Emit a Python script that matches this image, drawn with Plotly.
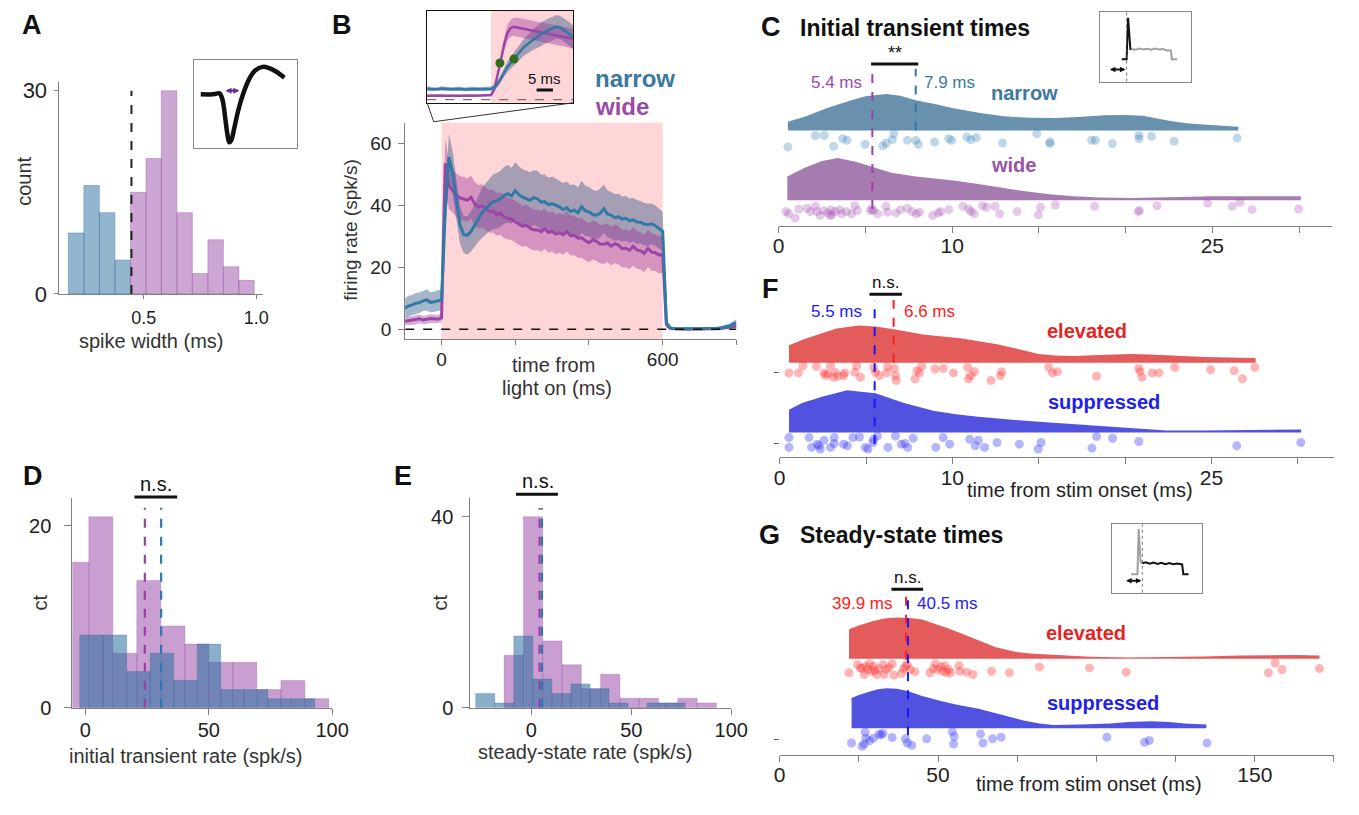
import plotly.graph_objects as go

W, H = 1359, 815          # page (window) size
OX, OY = 8, 8             # default body margin of the html page
FW, FH = W - 2 * OX, H - 2 * OY   # figure size so that page == window
FONT = "Liberation Sans, Arial, Helvetica, sans-serif"

# ======================= DATA =======================
# ---- A: spike width histogram ----
a_bin_width = 0.0688
a_narrow_bins = [0.199, 0.268, 0.337, 0.406]
a_narrow_counts = [9, 16, 12, 5]
a_wide_bins = [0.475, 0.544, 0.612, 0.681, 0.750, 0.819, 0.888, 0.956]
a_wide_counts = [15, 20, 30, 12, 3, 8, 4, 2]
a_threshold = 0.445
# inset waveform (schematic units)
a_wave_t = [7, 20, 26, 29, 32, 34, 36, 38, 41, 45, 50, 56, 62, 70, 76, 84, 92]
a_wave_v = [55, 55, 56, 50, 30, 15, 6, 8, 20, 38, 55, 70, 79, 83, 82, 78, 72]

# ---- B: PSTH ----
b_t = [-100, -90, -80, -70, -60, -50, -40, -30, -20, -10, 0,
       10, 20, 30, 40, 50, 60, 70, 80, 90, 100,
       110, 120, 130, 140, 150, 160, 170, 180, 190, 200,
       210, 220, 230, 240, 250, 260, 270, 280, 290, 300,
       310, 320, 330, 340, 350, 360, 370, 380, 390, 400,
       410, 420, 430, 440, 450, 460, 470, 480, 490, 500,
       510, 520, 530, 540, 550, 560, 570, 580, 590, 600,
       610, 620, 630, 640, 650, 660, 670, 680, 690, 700,
       710, 720, 730, 740, 750, 760, 770, 780, 790, 800]
b_narrow_mean = [6.8, 7.5, 7.9, 8.4, 8.6, 9.2, 9.5, 8.7, 8.9, 9.3, 9.5,
                 38.0, 55.5, 50.5, 42.0, 33.7, 30.5, 30.3, 31.6, 33.7, 35.8,
                 37.6, 38.9, 40.2, 41.1, 41.4, 42.1, 43.2, 43.7, 43.0, 44.7,
                 43.4, 42.6, 42.0, 41.6, 42.5, 42.1, 41.0, 41.1, 40.2, 40.5,
                 40.0, 39.5, 38.6, 39.2, 38.0, 38.4, 37.6, 39.5, 38.2, 37.9,
                 37.0, 36.8, 37.4, 38.9, 37.2, 36.8, 36.0, 36.3, 35.5, 35.8,
                 35.0, 35.3, 34.6, 34.5, 33.9, 33.7, 34.0, 33.4, 32.5, 31.6,
                 2.1, 0.5, 0.3, 0.2, 0.2, 0.2, 0.1, 0.2, 0.2, 0.3,
                 0.2, 0.3, 0.2, 0.4, 0.3, 0.5, 0.8, 1.0, 1.6, 2.1]
b_narrow_sem = [3.2, 3.3, 3.2, 3.4, 3.3, 3.2, 3.4, 3.3, 3.2, 3.4, 3.3,
                6.0, 7.5, 7.0, 6.5, 6.0, 6.0, 6.2, 6.5, 7.0, 7.5,
                8.0, 8.3, 8.5, 8.8, 9.0, 9.0, 9.2, 9.3, 9.0, 9.2,
                9.1, 9.0, 9.2, 9.0, 8.8, 9.0, 8.9, 8.8, 8.7, 8.8,
                8.6, 8.5, 8.6, 8.4, 8.5, 8.3, 8.2, 8.4, 8.1, 8.0,
                8.0, 7.8, 7.9, 7.8, 7.6, 7.5, 7.6, 7.4, 7.3, 7.2,
                7.2, 7.0, 7.1, 6.9, 6.8, 6.8, 6.6, 6.5, 6.4, 6.3,
                1.5, 0.4, 0.3, 0.2, 0.2, 0.2, 0.2, 0.2, 0.2, 0.3,
                0.3, 0.3, 0.3, 0.4, 0.4, 0.5, 0.7, 0.8, 1.0, 1.2]
b_wide_mean = [2.6, 2.8, 2.9, 3.1, 3.4, 3.0, 3.2, 3.5, 3.4, 3.3, 3.7,
               53.5, 46.3, 44.7, 43.2, 42.4, 42.1, 41.6, 42.6, 40.5, 39.5,
               39.8, 38.9, 38.0, 38.1, 37.0, 37.4, 36.2, 35.8, 35.5, 34.7,
               33.9, 33.2, 33.6, 32.6, 32.0, 32.1, 31.5, 32.4, 31.2, 31.6,
               30.7, 31.1, 30.5, 31.6, 30.2, 30.3, 29.4, 29.5, 28.6, 27.9,
               28.8, 28.4, 27.5, 27.4, 27.9, 26.8, 27.6, 27.2, 26.0, 26.1,
               25.5, 26.8, 25.6, 25.3, 24.5, 26.1, 24.9, 24.7, 24.0, 24.2,
               1.6, 0.3, 0.2, 0.1, 0.1, 0.2, 0.1, 0.1, 0.2, 0.1,
               0.1, 0.2, 0.1, 0.2, 0.2, 0.3, 0.4, 0.6, 0.8, 1.0]
b_wide_sem = [1.3, 1.4, 1.3, 1.5, 1.4, 1.3, 1.5, 1.4, 1.4, 1.3, 1.5,
              8.0, 7.5, 7.0, 7.0, 7.0, 7.0, 7.0, 7.0, 7.0, 7.0,
              7.0, 6.9, 6.9, 6.9, 6.8, 6.8, 6.8, 6.8, 6.7, 6.7,
              6.7, 6.6, 6.7, 6.6, 6.6, 6.5, 6.6, 6.5, 6.5, 6.5,
              6.4, 6.5, 6.4, 6.5, 6.4, 6.4, 6.3, 6.4, 6.3, 6.3,
              6.3, 6.3, 6.2, 6.3, 6.2, 6.2, 6.2, 6.2, 6.1, 6.2,
              6.1, 6.2, 6.1, 6.0, 6.1, 6.0, 6.0, 5.9, 6.0, 5.9,
              1.0, 0.2, 0.1, 0.1, 0.1, 0.1, 0.1, 0.1, 0.1, 0.1,
              0.1, 0.1, 0.1, 0.1, 0.1, 0.2, 0.2, 0.3, 0.4, 0.5]
b_light_on = [0, 600]

# B inset (zoom around light onset)
bi_t = [-20, -19, -18, -17, -16, -15, -14, -13, -12, -11, -10, -9, -8, -7, -6, -5, -4, -3, -2, -1,
        0, 1, 2, 3, 4, 5, 6, 7, 8, 9, 10, 11, 12, 13, 14, 15, 16, 17, 18, 19, 20, 21, 22, 23, 24, 25]
bi_narrow_mean = [8.2, 8.4, 8.0, 7.8, 8.1, 8.5, 8.3, 8.0, 7.9, 8.2, 8.4, 8.1, 7.8, 8.0, 8.3, 8.1, 7.9, 8.0, 8.2, 8.1,
                  8.3, 9.5, 12, 16, 21, 25, 28, 31, 34, 37, 40, 42, 44, 46, 48, 49.5, 51, 52.5, 53.5, 54.5,
                  55.5, 55, 53.5, 52, 50, 47.5]
bi_narrow_sem = [1.6, 1.7, 1.6, 1.5, 1.6, 1.7, 1.6, 1.6, 1.5, 1.6, 1.7, 1.6, 1.5, 1.6, 1.7, 1.6, 1.5, 1.6, 1.6, 1.6,
                 1.7, 2.0, 2.5, 3.0, 3.5, 4.0, 4.5, 5.0, 5.5, 6.0, 6.5, 7.0, 7.5, 8.0, 8.5, 9.0, 9.0, 9.0, 9.0, 9.0,
                 9.0, 9.0, 9.0, 9.0, 9.0, 9.0]
bi_wide_mean = [3.0, 3.1, 2.9, 3.2, 3.0, 3.1, 2.9, 3.0, 3.2, 3.1, 3.0, 2.9, 3.1, 3.0, 3.2, 3.0, 3.1, 2.9, 3.0, 3.2,
                3.5, 8, 18, 30, 42, 51, 54.5, 55.5, 55, 54.5, 54, 53.5, 53, 52.5, 52, 51.5, 51, 50.5, 50, 49.5,
                49, 48.5, 48, 47.5, 47, 46.5]
bi_wide_sem = [0.9, 0.9, 0.8, 0.9, 0.9, 0.8, 0.9, 0.9, 0.8, 0.9, 0.9, 0.8, 0.9, 0.9, 0.8, 0.9, 0.9, 0.8, 0.9, 0.9,
               1.0, 2.0, 3.0, 4.0, 5.0, 6.0, 6.5, 7.0, 7.5, 7.5, 7.5, 7.5, 7.5, 7.5, 7.5, 7.5, 7.5, 7.5, 7.5, 7.5,
               7.5, 7.5, 7.5, 7.5, 7.5, 7.5]
bi_onset_t = [2.7, 7.0]
bi_onset_v = [28, 31]

# ---- C: initial transient times (narrow vs wide) ----
c_narrow_kde_t = [0.53, 1.5, 2.8, 4.0, 5.0, 6.2, 7.0, 7.9, 9.0, 10.0, 11.6, 13.0, 14.5, 16.0, 17.5, 18.8,
                  20.0, 21.0, 22.5, 23.5, 24.7, 26.5]
c_narrow_kde_h = [9, 14, 23, 30, 35, 37.3, 35.5, 31, 27, 23, 18, 14.5, 13, 12.8, 14, 15.5, 16, 15, 10, 7.5, 6, 4]
c_wide_kde_t = [0.5, 1.5, 2.5, 3.4, 4.5, 5.4, 6.5, 7.9, 9.0, 10.1, 11.5, 12.8, 14.0, 15.6, 17.0, 18.5, 20.4,
                22.5, 24.9, 27.5, 30.1]
c_wide_kde_h = [24, 33, 40, 43, 39, 34, 28, 24, 22, 20, 16.5, 13, 9.5, 6, 4, 2.8, 2.3, 3, 4, 4, 4]
c_narrow_dot_t = [0.53, 2.12, 2.63, 3.17, 3.69, 3.93, 4.98, 6.0, 6.2, 6.55,
                  6.64, 7.42, 7.9, 8.05, 8.99, 9.8, 9.97, 10.85, 11.07, 11.39,
                  12.91, 14.88, 15.64, 15.64, 18.04, 18.26, 19.24, 20.77, 20.77, 21.49,
                  22.8, 26.43]
c_narrow_dot_y = [80.3, 92, 92, 81, 88.7, 87, 83, 81.3, 84.3, 87.7,
                  93.7, 87, 87, 83, 85.3, 88.7, 87, 90.3, 87.7, 89.7,
                  84.3, 93.7, 83.7, 85.3, 87, 87, 83.7, 92, 88.7, 91,
                  86, 89.3]
c_wide_dot_t = [0.42, 0.57, 0.95, 1.17, 1.64, 1.83, 2.12, 2.21, 2.40, 2.59,
                2.83, 2.97, 3.02, 3.06, 3.25, 3.53, 3.63, 3.91, 4.20, 4.38,
                4.54, 5.29, 5.37, 5.48, 5.71, 6.18, 6.27, 6.75, 7.03, 7.41,
                7.69, 7.94, 8.13, 8.88, 9.20, 9.34, 9.81, 10.62, 10.96, 11.09,
                11.28, 11.75, 11.98, 12.47, 12.74, 13.74, 14.97, 15.1, 15.95, 18.21,
                20.73, 20.8, 21.81, 24.73, 26.15, 26.59, 27.29, 29.97]
c_wide_dot_y = [14.3, 12, 7.7, 17, 17.7, 14.3, 19.7, 14.3, 10.3, 15.3,
                13, 10.3, 16.3, 11, 14.3, 16.3, 12, 14.3, 12, 20.3,
                15.3, 15.3, 17, 15.3, 12, 19.7, 13.7, 13, 16.3, 17.7,
                14.3, 12, 13.7, 10.3, 13, 14.3, 16.3, 19.7, 17, 14.3,
                12, 20.3, 18.7, 19.7, 12, 14.3, 11, 18.7, 21, 19.7,
                14.3, 15.3, 20.3, 23, 19.7, 23.7, 16.3, 17]
c_median_wide = 5.4
c_median_narrow = 7.9
# C inset schematic trace
ci_black_t = [22, 27, 28.5, 30.8, 31.6]
ci_black_v = [22.7, 22.7, 65, 33.3, 33.3]
ci_gray_t = [31.6, 36, 40, 44, 48, 52, 56, 60, 64, 68, 72, 73, 78.5]
ci_gray_v = [33.3, 32.5, 33.8, 32.8, 33.5, 32.4, 33.6, 32.7, 33.2, 31.8, 31.7, 22.7, 22.7]

# ---- D: initial transient rate histograms ----
d_wide_bins = [-3.47, 6.27, 16.0, 25.7, 35.5, 45.2, 54.9, 64.6, 74.4, 84.1, 93.8]
d_wide_counts = [16, 21, 6, 14, 9, 7, 5, 5, 2, 3, 1]
d_wide_width = 9.73
d_narrow_bins = [2.49, 12.0, 21.55, 31.05, 40.55, 50.1, 59.65, 69.15, 78.65, 88.2]
d_narrow_counts = [8, 8, 4, 6, 3, 7, 2, 2, 1, 1]
d_narrow_width = 9.52
d_mean_wide = 24.1
d_mean_narrow = 30.7

# ---- E: steady-state rate histograms ----
e_wide_bins = [-8.78, 0.88, 10.53, 20.18, 29.83, 39.48, 49.13, 58.78, 68.43, 78.08, 87.73]
e_wide_counts = [11, 40, 14, 9, 4, 7, 2, 2, 1, 2, 1]
e_wide_width = 9.65
e_narrow_bins = [-23.04, -13.52, -4.0, 5.52, 15.04, 24.56, 34.08, 43.6, 53.12, 62.64, 72.16]
e_narrow_counts = [3, 1, 15, 6, 3, 5, 4, 1, 0, 1, 1]
e_narrow_width = 9.52
e_mean_wide = 4.1
e_mean_narrow = 5.3

# ---- F: initial transient times (elevated vs suppressed) ----
f_elev_kde_t = [0.54, 1.4, 2.4, 3.3, 4.57, 5.55, 6.7, 8.3, 10.45, 12.6, 13.8, 15.0, 16.0, 17.0, 18.5,
                20.3, 21.4, 23.0, 24.6, 26.0, 27.56]
f_elev_kde_h = [18, 24, 30, 35, 38, 37, 34, 29, 25, 19, 14, 9, 7.5, 7, 8, 9, 8.5, 7, 6, 5.5, 5]
f_supp_kde_t = [0.54, 1.3, 2.4, 3.9, 5.55, 7.2, 8.9, 10.2, 11.5, 13.0, 14.8, 16.5, 18.1, 20.5, 22.4,
                24.5, 26.8, 28.5, 30.2]
f_supp_kde_h = [23, 30, 36, 43, 40, 30, 22, 18.5, 16, 13.5, 11, 9, 7, 4, 2, 2, 2.3, 2.8, 3]
f_elev_dot_t = [0.54, 1.09, 1.35, 2.13, 2.57, 2.65, 2.79, 2.94, 3.11, 3.22,
                3.37, 3.70, 3.77, 4.35, 4.46, 4.68, 5.44, 5.55, 5.77, 6.2,
                6.25, 6.64, 6.71, 6.75, 7.84, 7.95, 8.1, 8.23, 8.99, 9.47,
                10.06, 10.89, 10.93, 11.07, 11.28, 12.24, 12.79, 12.85, 15.58, 15.8,
                16.08, 18.35, 20.8, 20.87, 20.98, 21.57, 21.96, 22.88, 24.95, 26.32,
                26.8, 27.52]
f_elev_dot_y = [85.7, 85.7, 93, 92.3, 85.7, 83, 84.7, 93, 81.3, 86.3,
                82.3, 83, 85.7, 86.3, 93, 81.3, 91.3, 86.3, 83, 85.7,
                92, 90.3, 83, 78, 79.7, 88, 85.7, 92.3, 89.7, 90.3,
                85.7, 91.3, 79.7, 83, 87, 78, 83, 87, 91.3, 85.7,
                87, 82.3, 90.3, 87, 81.3, 85.7, 85.7, 91.3, 89, 88,
                79.7, 91.3]
f_supp_dot_t = [0.54, 0.54, 1.70, 1.85, 2.17, 2.28, 2.35, 2.57, 2.94, 3.16,
                3.16, 3.70, 3.92, 4.24, 4.62, 4.96, 5.12, 5.40, 5.44, 5.66,
                6.27, 6.71, 7.04, 7.25, 7.41, 7.73, 9.04, 9.47, 9.85, 11.0,
                11.33, 11.5, 11.87, 12.59, 13.88, 14.97, 15.14, 18.08, 18.35, 19.28,
                20.8, 26.47, 30.18]
f_supp_dot_y = [19.7, 9.7, 19.7, 9.7, 13, 11.3, 8, 17, 9.7, 13.7,
                19.7, 13, 11.3, 19.7, 20.3, 9.7, 8, 14.7, 18, 21.3,
                9.7, 21.3, 13, 13.7, 9.7, 19, 9.7, 19.7, 13, 18,
                11.3, 17, 9.7, 14.7, 13, 8, 14.7, 9, 20.7, 19,
                15.7, 11.3, 14.7]
f_median_supp = 5.5
f_median_elev = 6.6

# ---- G: steady-state times (elevated vs suppressed) ----
g_elev_kde_t = [21.9, 25, 29, 33, 36.7, 41, 45, 49, 53.3, 58, 62.8, 68, 74.6, 80, 86.5, 98, 110.2, 122,
                133.9, 145, 155.3, 163, 170.4]
g_elev_kde_h = [30, 34, 38, 41, 42, 41.5, 40, 36, 31, 25, 19, 12, 7, 5, 4, 2, 1.3, 1.5, 2.3, 3.3, 4, 3.8, 3.3]
g_supp_kde_t = [22.7, 25, 28, 31, 33.7, 37, 40.3, 45, 50.9, 56, 62.8, 70, 77, 82, 86.5, 95, 104.3, 110,
                117.3, 123, 127.9, 134.7]
g_supp_kde_h = [31, 34, 37, 40, 41, 40.5, 38, 33, 28, 24, 20, 14, 8, 5, 3.3, 4, 5, 6.5, 7.3, 6.5, 5, 4]
g_elev_dot_t = [21.9, 24.6, 25.5, 26.7, 27.2, 27.8, 28.4, 29.0, 29.6, 30.6,
                31.4, 32.6, 32.9, 33.7, 35.5, 36.1, 39.1, 39.7, 40.3, 41.2,
                42.7, 47.4, 49.2, 49.8, 50.9, 51.5, 52.1, 53.3, 53.9, 56.6,
                56.9, 59.0, 61.0, 66.9, 72.5, 82.0, 97.8, 109.4, 154.3, 156.4,
                158.6, 170.4, 26.0, 30.0, 34.5, 38.5, 48.5, 52.6]
g_elev_dot_y = [83.7, 92, 88.7, 82, 90.3, 87, 93, 85.3, 90.3, 82,
                87.7, 92, 82, 87, 93, 81.3, 87.7, 90.3, 92, 87,
                84.7, 83.7, 93, 87, 89.7, 85.3, 91, 87, 83.7, 91,
                85.3, 84.3, 82, 85.3, 83.7, 89.7, 88.7, 84.3, 83.7, 93.7,
                87, 88, 88, 86, 89, 83, 88, 84]
g_supp_dot_t = [22.7, 26.0, 26.7, 27.0, 27.2, 28.4, 29.6, 31.4, 32.0, 32.6,
                35.5, 39.7, 40.3, 41.7, 46.4, 54.5, 55.1, 54.9, 63.4, 64.2,
                67.2, 69.9, 103.3, 115.2, 116.7, 134.9]
g_supp_dot_y = [12, 8.7, 11, 23, 17, 14.3, 17, 21, 20.3, 22,
                17.7, 16.3, 12, 9.7, 16.3, 23.7, 18.7, 11, 21.3, 12,
                16.3, 18, 18, 12.7, 14.7, 12]
g_median_elev = 39.9
g_median_supp = 40.5
# G inset schematic trace
gi_gray_t = [19.2, 25.6, 26.9, 28.8, 30.6]
gi_gray_v = [19, 19, 65, 31.7, 30]
gi_black_t = [30.6, 34, 38, 42, 46, 50, 54, 58, 62, 66, 71.1, 72.3, 77.6]
gi_black_v = [30, 31.2, 29.8, 30.9, 29.5, 30.6, 29.3, 30.4, 29.1, 29.8, 29, 19, 19]

# ======================= STYLE / LAYOUT HELPERS =======================
BLUE_BAR = "rgba(40,110,160,0.55)"
PURP_BAR = "rgba(155,80,170,0.55)"
NARROW_C = "#2f7aa6"
WIDE_C = "#9c45a8"
RED_T = "#e8231f"
BLUE_T = "#2121e8"
AXC = "#808080"


def px2x(px):
    return min(1.0, max(0.0, (px - OX) / FW))


def py2y(py):
    return min(1.0, max(0.0, 1 - (py - OY) / FH))


def xdom(l, r):
    return [px2x(l), px2x(r)]


def ydom(top, bot):
    return [py2y(bot), py2y(top)]


def base_axis(domain, rng, anchor, **kw):
    d = dict(domain=domain, range=rng, anchor=anchor, showgrid=False, zeroline=False,
             showline=False, ticks="", showticklabels=False, fixedrange=True)
    d.update(kw)
    return d


def tf(size):
    return dict(family=FONT, size=size, color="#222")


annotations = []
shapes = []


def txt(text, px, py, size=20, color="#111", bold=False, xanchor="center", angle=0):
    annotations.append(dict(text=f"<b>{text}</b>" if bold else text, x=(px - OX) / FW, y=1 - (py - OY) / FH,
                            xref="paper", yref="paper", showarrow=False,
                            font=dict(family=FONT, size=size, color=color),
                            xanchor=xanchor, yanchor="middle", textangle=angle))


def dtxt(text, x, y, xr, yr, size=17, color="#111", bold=False, xanchor="center"):
    annotations.append(dict(text=f"<b>{text}</b>" if bold else text, x=x, y=y, xref=xr, yref=yr,
                            showarrow=False, font=dict(family=FONT, size=size, color=color),
                            xanchor=xanchor, yanchor="middle"))


def vline(x, y0, y1, xr, yr, color, width=2, dash="dash"):
    shapes.append(dict(type="line", x0=x, x1=x, y0=y0, y1=y1, xref=xr, yref=yr,
                       line=dict(color=color, width=width, dash=dash)))


def hline(x0, x1, y, xr, yr, color="#111", width=3, dash="solid"):
    shapes.append(dict(type="line", x0=x0, x1=x1, y0=y, y1=y, xref=xr, yref=yr,
                       line=dict(color=color, width=width, dash=dash)))


def darrow(x0, x1, y, xr, yr, color, width=2):
    annotations.append(dict(x=x1, y=y, ax=x0, ay=y, xref=xr, yref=yr, axref=xr, ayref=yr,
                            text="", showarrow=True, arrowhead=2, arrowside="end+start", arrowsize=0.55,
                            arrowwidth=width, arrowcolor=color, standoff=0, startstandoff=0))


fig = go.Figure()


def add(tr, n):
    xa = "x" if n == 1 else f"x{n}"
    ya = "y" if n == 1 else f"y{n}"
    tr.update(xaxis=xa, yaxis=ya, showlegend=False, hoverinfo="skip")
    fig.add_trace(tr)


def half_violin(kt, kh, base, color, n):
    xs = list(kt) + list(kt)[::-1]
    ys = [base + h for h in kh] + [base] * len(kt)
    add(go.Scatter(x=xs, y=ys, fill="toself", fillcolor=color, mode="lines",
                   line=dict(width=0, color=color)), n)


def dots(t, y, color, n, size=9):
    add(go.Scatter(x=t, y=y, mode="markers", marker=dict(size=size, color=color, line=dict(width=0))), n)


def band(t, m, s, color, n):
    up = [a + b for a, b in zip(m, s)]
    lo = [a - b for a, b in zip(m, s)]
    add(go.Scatter(x=list(t) + list(t)[::-1], y=up + lo[::-1], fill="toself", fillcolor=color,
                   mode="lines", line=dict(width=0)), n)


# ======================= A =======================
add(go.Bar(x=a_narrow_bins, y=a_narrow_counts, width=a_bin_width, marker=dict(color="rgba(40,110,160,0.5)",
           line=dict(color="rgba(60,110,150,0.5)", width=0.8))), 1)
add(go.Bar(x=a_wide_bins, y=a_wide_counts, width=a_bin_width, marker=dict(color="rgba(155,80,170,0.5)",
           line=dict(color="rgba(150,90,165,0.5)", width=0.8))), 1)
vline(a_threshold, 0, 30, "x", "y", "#222", width=2)
# A inset
shapes.append(dict(type="rect", xref="x11 domain", yref="y11 domain", x0=0, x1=1, y0=0, y1=1,
                   fillcolor="#e4e5e7", line=dict(width=0), layer="below"))
add(go.Scatter(x=a_wave_t, y=a_wave_v, mode="lines", line=dict(color="#111", width=4.5, shape="spline")), 11)
darrow(30.7, 46.3, 58.7, "x11", "y11", "#6a2c9a", width=2.2)

# ======================= B =======================
shapes.append(dict(type="rect", xref="x2", yref="y2 domain", x0=b_light_on[0], x1=b_light_on[1], y0=0, y1=1,
                   fillcolor="#ffd6d8", line=dict(width=0), layer="below"))
band(b_t, b_narrow_mean, b_narrow_sem, "rgba(40,80,130,0.42)", 2)
band(b_t, b_wide_mean, b_wide_sem, "rgba(150,40,150,0.38)", 2)
add(go.Scatter(x=b_t, y=b_wide_mean, mode="lines", line=dict(color=WIDE_C, width=3)), 2)
add(go.Scatter(x=b_t, y=b_narrow_mean, mode="lines", line=dict(color=NARROW_C, width=3)), 2)
hline(-98.7, 800, 0, "x2", "y2", "#111", width=1.5, dash="dash")

# B inset
shapes.append(dict(type="rect", xref="x3", yref="y3 domain", x0=0, x1=25, y0=0, y1=1,
                   fillcolor="#ffd6d8", line=dict(width=0), layer="below"))
band(bi_t, bi_narrow_mean, bi_narrow_sem, "rgba(40,80,130,0.42)", 3)
band(bi_t, bi_wide_mean, bi_wide_sem, "rgba(150,40,150,0.38)", 3)
add(go.Scatter(x=bi_t, y=bi_wide_mean, mode="lines", line=dict(color=WIDE_C, width=2.5)), 3)
add(go.Scatter(x=bi_t, y=bi_narrow_mean, mode="lines", line=dict(color=NARROW_C, width=2.5)), 3)
add(go.Scatter(x=bi_onset_t, y=bi_onset_v, mode="markers", marker=dict(size=9, color="#2f6e1d")), 3)
hline(-19.5, 25, 0, "x3", "y3", "#555", width=1, dash="dash")
hline(13.9, 18.9, 7.3, "x3", "y3", "#111", width=3)
dtxt("5 ms", 16.4, 16.5, "x3", "y3", size=15)
# connector lines from inset to main axes
shapes.append(dict(type="path", xref="paper", yref="paper",
                   path=(f"M {(428.3 - OX) / FW} {1 - (101.7 - OY) / FH} "
                         f"L {(435 - OX) / FW} {1 - (121 - OY) / FH} "
                         f"L {(576.7 - OX) / FW} {1 - (101.7 - OY) / FH}"),
                   line=dict(color="#333", width=1)))

# ======================= C =======================
half_violin(c_narrow_kde_t, c_narrow_kde_h, 97, "#6891ad", 4)
half_violin(c_wide_kde_t, c_wide_kde_h, 26, "#a67bb0", 4)
dots(c_narrow_dot_t, c_narrow_dot_y, "rgba(60,135,185,0.33)", 4)
dots(c_wide_dot_t, c_wide_dot_y, "rgba(165,80,180,0.3)", 4)
vline(c_median_wide, 17, 160, "x4", "y4", "#a03fb0")
vline(c_median_narrow, 97, 160, "x4", "y4", "#2f78a8")
hline(5.33, 8.05, 165, "x4", "y4")
dtxt("**", 6.7, 176, "x4", "y4", size=18)
dtxt("5.4 ms", 4.93, 146, "x4", "y4", size=17, color="#a04aae", xanchor="right")
dtxt("7.9 ms", 8.28, 146, "x4", "y4", size=17, color="#3a7aa8", xanchor="left")
dtxt("narrow", 12.1, 135, "x4", "y4", size=20, color="#3d79a3", bold=True, xanchor="left")
dtxt("wide", 12.1, 62, "x4", "y4", size=20, color="#9a52a8", bold=True, xanchor="left")
# C inset
shapes.append(dict(type="rect", xref="x5 domain", yref="y5 domain", x0=0, x1=1, y0=0, y1=1,
                   fillcolor="#e4e5e7", line=dict(width=0), layer="below"))
vline(27, 0, 70.7, "x5", "y5", "#555", width=0.8, dash="dot")
add(go.Scatter(x=ci_gray_t, y=ci_gray_v, mode="lines", line=dict(color="#a0a0a0", width=2)), 5)
add(go.Scatter(x=ci_black_t, y=ci_black_v, mode="lines", line=dict(color="#111", width=2)), 5)
darrow(8.5, 25.8, 12.3, "x5", "y5", "#111", width=2)

# ======================= D =======================
add(go.Bar(x=d_wide_bins, y=d_wide_counts, width=d_wide_width, marker=dict(color=PURP_BAR,
           line=dict(color="rgba(150,80,165,0.35)", width=0.8))), 6)
add(go.Bar(x=d_narrow_bins, y=d_narrow_counts, width=d_narrow_width, marker=dict(color=BLUE_BAR,
           line=dict(color="rgba(60,100,150,0.35)", width=0.8))), 6)
vline(d_mean_wide, 0, 22.0, "x6", "y6", "#9b3fa6", width=2.2)
vline(d_mean_narrow, 0, 22.0, "x6", "y6", "#2a7ab0", width=2.2)
hline(19.9, 37.2, py2y(504), "x6", "paper")
txt("n.s.", 152.5, 491, size=20)

# ======================= E =======================
add(go.Bar(x=e_wide_bins, y=e_wide_counts, width=e_wide_width, marker=dict(color=PURP_BAR,
           line=dict(color="rgba(150,80,165,0.35)", width=0.8))), 7)
add(go.Bar(x=e_narrow_bins, y=e_narrow_counts, width=e_narrow_width, marker=dict(color=BLUE_BAR,
           line=dict(color="rgba(60,100,150,0.35)", width=0.8))), 7)
vline(e_mean_wide, 0, 41.8, "x7", "y7", "#9b3fa6", width=2.2)
vline(e_mean_narrow, 0, 41.8, "x7", "y7", "#2a7ab0", width=2.2)
hline(-7.7, 13.3, py2y(501), "x7", "paper")
txt("n.s.", 541, 488, size=20)

# ======================= F =======================
half_violin(f_elev_kde_t, f_elev_kde_h, 96, "#e35b5b", 8)
half_violin(f_supp_kde_t, f_supp_kde_h, 25, "#5252e0", 8)
dots(f_elev_dot_t, f_elev_dot_y, "rgba(255,60,60,0.38)", 8)
dots(f_supp_dot_t, f_supp_dot_y, "rgba(60,60,245,0.38)", 8)
vline(f_median_supp, 13, 160, "x8", "y8", "#1515ff")
vline(f_median_elev, 96, 160, "x8", "y8", "#ff2020")
hline(5.2, 7.08, 166, "x8", "y8")
dtxt("n.s.", 6.15, 178, "x8", "y8", size=17)
dtxt("5.5 ms", 4.87, 148, "x8", "y8", size=17, color="#2020ff", xanchor="right")
dtxt("6.6 ms", 7.08, 148, "x8", "y8", size=17, color="#ff2020", xanchor="left")
dtxt("elevated", 15.35, 128, "x8", "y8", size=20, color=RED_T, bold=True, xanchor="left")
dtxt("suppressed", 15.4, 56, "x8", "y8", size=20, color=BLUE_T, bold=True, xanchor="left")

# ======================= G =======================
half_violin(g_elev_kde_t, g_elev_kde_h, 98, "#e35b5b", 9)
half_violin(g_supp_kde_t, g_supp_kde_h, 27, "#5252e0", 9)
dots(g_elev_dot_t, g_elev_dot_y, "rgba(255,60,60,0.38)", 9)
dots(g_supp_dot_t, g_supp_dot_y, "rgba(60,60,245,0.38)", 9)
vline(g_median_elev, 97, 164, "x9", "y9", "#ff2020")
vline(g_median_supp, 20, 164, "x9", "y9", "#1515ff")
hline(35.3, 45.3, 169, "x9", "y9")
dtxt("n.s.", 40.3, 181, "x9", "y9", size=17)
dtxt("39.9 ms", 36.1, 154, "x9", "y9", size=17, color="#ff2020", xanchor="right")
dtxt("40.5 ms", 42.8, 154, "x9", "y9", size=17, color="#2020ff", xanchor="left")
dtxt("elevated", 83.5, 124, "x9", "y9", size=20, color=RED_T, bold=True, xanchor="left")
dtxt("suppressed", 83.8, 53, "x9", "y9", size=20, color=BLUE_T, bold=True, xanchor="left")
# G inset
shapes.append(dict(type="rect", xref="x10 domain", yref="y10 domain", x0=0, x1=1, y0=0, y1=1,
                   fillcolor="#e4e5e7", line=dict(width=0), layer="below"))
vline(30.6, 0, 70, "x10", "y10", "#555", width=0.8, dash="dot")
add(go.Scatter(x=gi_gray_t, y=gi_gray_v, mode="lines", line=dict(color="#a0a0a0", width=2)), 10)
add(go.Scatter(x=gi_black_t, y=gi_black_v, mode="lines", line=dict(color="#111", width=2)), 10)
darrow(12.6, 29.6, 12.4, "x10", "y10", "#111", width=2)

# ======================= TEXT LABELS =======================
txt("A", 26.5, 22, size=27, bold=True)
txt("B", 342, 22, size=27, bold=True)
txt("C", 778, 24, size=27, bold=True)
txt("Initial transient times", 806, 25, size=23, bold=True, xanchor="left")
txt("D", 27, 483, size=27, bold=True)
txt("E", 404, 483, size=27, bold=True)
txt("F", 778, 292, size=27, bold=True)
txt("G", 777, 543, size=27, bold=True)
txt("Steady-state times", 806, 543, size=23, bold=True, xanchor="left")

txt("spike width (ms)", 147, 345, size=20, color="#333")
txt("count", 17.5, 182, size=20, color="#333", angle=-90)
txt("firing rate (spk/s)", 350, 232, size=19, color="#333", angle=-90)
txt("time from", 557, 369, size=20, color="#333")
txt("light on (ms)", 560, 393, size=20, color="#333")
txt("narrow", 597, 77, size=24, color="#3b78a0", bold=True, xanchor="left")
txt("wide", 597, 105, size=24, color="#9a4aa8", bold=True, xanchor="left")
txt("initial transient rate (spk/s)", 182, 768, size=20, color="#333")
txt("ct", 34, 612, size=20, color="#333", angle=-90)
txt("steady-state rate (spk/s)", 589, 764, size=20, color="#333")
txt("ct", 441, 612, size=20, color="#333", angle=-90)
txt("time from stim onset (ms)", 1093, 497, size=20, color="#222")
txt("time from stim onset (ms)", 1102, 797, size=20, color="#222")

# ======================= AXES =======================
lay = {}
# A
lay["xaxis"] = base_axis(xdom(53.3, 261.7), [0.121, 1.031], "y", showline=True, linecolor=AXC, ticks="outside",
                         ticklen=4, tickcolor=AXC, tickvals=[0.5, 1.0], ticktext=["0.5", "1.0"],
                         showticklabels=True, tickfont=tf(18), ticklabelstandoff=3)
lay["yaxis"] = base_axis(ydom(80, 296.7), [0, 31.35], "x", showline=True, linecolor=AXC, ticks="outside",
                         ticklen=4, tickcolor=AXC, tickvals=[0, 30], showticklabels=True, tickfont=tf(22),
                         ticklabelstandoff=2)
# B main
lay["xaxis2"] = base_axis(xdom(406, 743), [-98.7, 800], "y2", showline=True, linecolor=AXC, ticks="outside",
                          ticklen=5, tickcolor=AXC, tickvals=[0, 200, 400, 600, 800],
                          ticktext=["0", "", "", "600", ""], showticklabels=True, tickfont=tf(19),
                          ticklabelstandoff=-2)
lay["yaxis2"] = base_axis(ydom(122, 343), [-3.2, 66.6], "x2", showline=True, linecolor=AXC, ticks="outside",
                          ticklen=6, tickcolor=AXC, tickvals=[0, 20, 40, 60], showticklabels=True,
                          tickfont=tf(19), ticklabelstandoff=3)
# B inset
lay["xaxis3"] = base_axis(xdom(428.3, 576.7), [-19.5, 25], "y3", showline=True, mirror=True,
                          linecolor="#111", linewidth=1.5)
lay["yaxis3"] = base_axis(ydom(6, 101.7), [-2.4, 67.6], "x3", showline=True, mirror=True,
                          linecolor="#111", linewidth=1.5)
# C
lay["xaxis4"] = base_axis(xdom(786, 1349), [0, 31.9], "y4", showline=True, linecolor=AXC, ticks="outside",
                          ticklen=6, tickcolor=AXC, tickvals=[0, 5, 10, 15, 20, 25, 30],
                          ticktext=["0", "", "10", "", "", "25", ""], showticklabels=True, tickfont=tf(21),
                          ticklabelstandoff=-5)
lay["yaxis4"] = base_axis(ydom(40, 227), [0, 187], "x4")
# C inset
lay["xaxis5"] = base_axis(xdom(1113, 1205.4), [0, 92.4], "y5", showline=True, mirror=True, linecolor="#888")
lay["yaxis5"] = base_axis(ydom(9.3, 80), [0, 70.7], "x5", showline=True, mirror=True, linecolor="#888")
# D
lay["xaxis6"] = base_axis(xdom(67.3, 331.7), [-5.3, 100.0], "y6", showline=True, linecolor=AXC, ticks="outside",
                          ticklen=6, tickcolor=AXC, tickvals=[0, 50, 100], showticklabels=True, tickfont=tf(20),
                          ticklabelstandoff=-2)
lay["yaxis6"] = base_axis(ydom(505, 719), [0, 23.06], "x6", showline=True, linecolor=AXC, ticks="outside",
                          ticklen=7, tickcolor=AXC, tickvals=[0, 20], showticklabels=True, tickfont=tf(20),
                          ticklabelstandoff=9)
# E
lay["xaxis7"] = base_axis(xdom(472.3, 738), [-30.5, 100.1], "y7", showline=True, linecolor=AXC, ticks="outside",
                          ticklen=6, tickcolor=AXC, tickvals=[0, 50, 100], showticklabels=True, tickfont=tf(20),
                          ticklabelstandoff=-2)
lay["yaxis7"] = base_axis(ydom(505, 719), [0, 43.9], "x7", showline=True, linecolor=AXC, ticks="outside",
                          ticklen=7, tickcolor=AXC, tickvals=[0, 40], showticklabels=True, tickfont=tf(20),
                          ticklabelstandoff=5)
# F
lay["xaxis8"] = base_axis(xdom(787, 1354), [0, 32.1], "y8", showline=True, linecolor=AXC, ticks="outside",
                          ticklen=6, tickcolor=AXC, tickvals=[0, 5, 10, 15, 20, 25, 30],
                          ticktext=["0", "", "10", "", "", "25", ""], showticklabels=True, tickfont=tf(21),
                          ticklabelstandoff=-4)
lay["yaxis8"] = base_axis(ydom(280, 463), [0, 183], "x8", ticks="outside", ticklen=5, tickcolor="#666",
                          tickvals=[14, 86])
# G
lay["xaxis9"] = base_axis(xdom(787, 1354), [0, 175], "y9", showline=True, linecolor=AXC, ticks="outside",
                          ticklen=6, tickcolor=AXC, tickvals=[0, 25, 50, 75, 100, 125, 150, 175],
                          ticktext=["0", "", "50", "", "", "", "150", ""], showticklabels=True, tickfont=tf(21),
                          ticklabelstandoff=-5)
lay["yaxis9"] = base_axis(ydom(575, 767), [0, 192], "x9", ticks="outside", ticklen=5, tickcolor="#666",
                          tickvals=[16])
# G inset
lay["xaxis10"] = base_axis(xdom(1125.4, 1217), [0, 91.6], "y10", showline=True, mirror=True, linecolor="#888")
lay["yaxis10"] = base_axis(ydom(531.7, 601.7), [0, 70], "x10", showline=True, mirror=True, linecolor="#888")
# A inset
lay["xaxis11"] = base_axis(xdom(191, 296), [0, 105], "y11", showline=True, mirror=True, linecolor="#888")
lay["yaxis11"] = base_axis(ydom(58, 148), [0, 90], "x11", showline=True, mirror=True, linecolor="#888")

fig.update_layout(**lay)
fig.update_layout(width=FW, height=FH, autosize=False, margin=dict(l=0, r=0, t=0, b=0, pad=0),
                  plot_bgcolor="white", paper_bgcolor="white", barmode="overlay", bargap=0,
                  showlegend=False, annotations=annotations, shapes=shapes,
                  font=dict(family=FONT, color="#222"))

fig.write_html("out.html", config={"displayModeBar": False, "staticPlot": True})
